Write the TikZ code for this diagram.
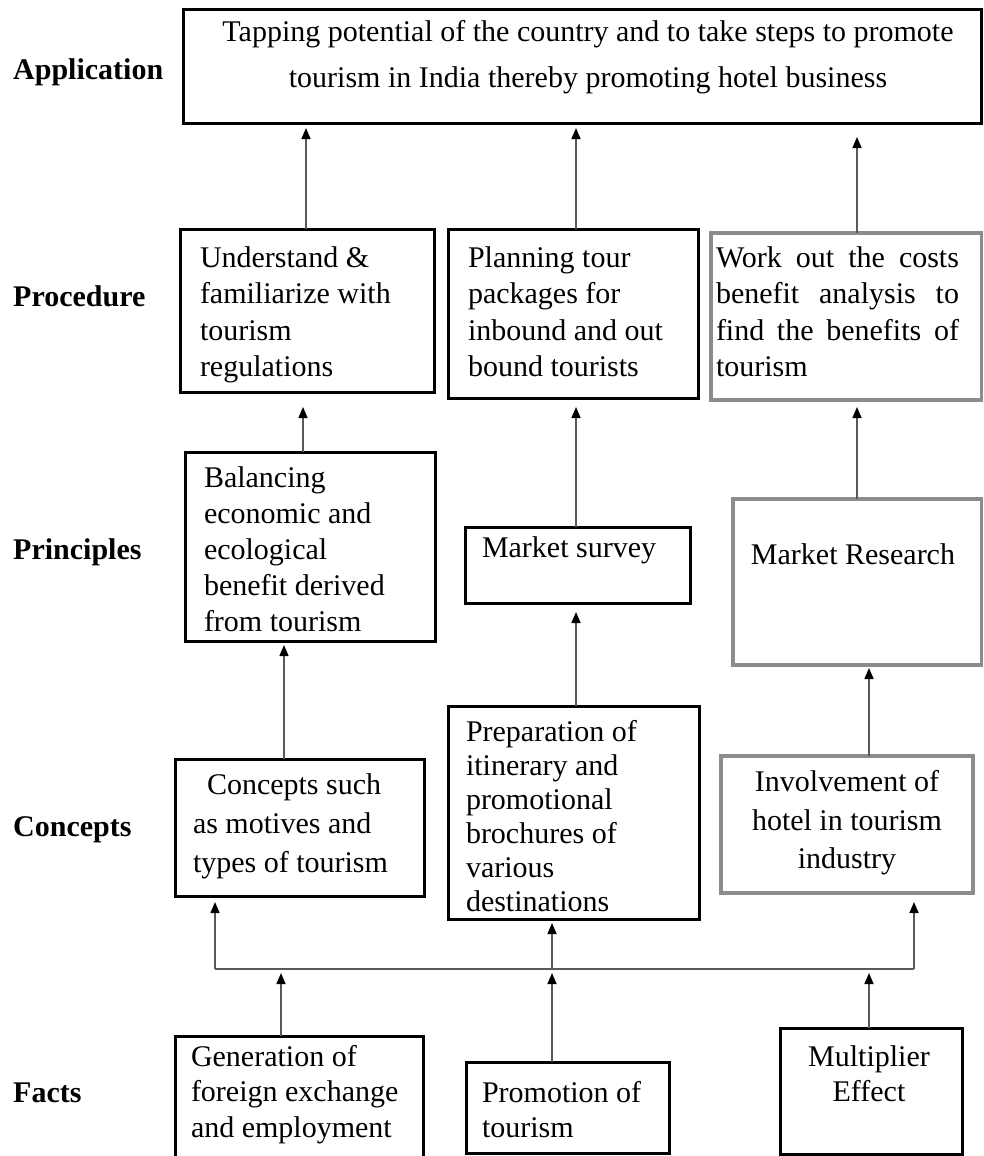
\documentclass[tikz,border=0pt]{standalone}
\usepackage{fontspec}
\setmainfont{Liberation Serif}
\usetikzlibrary{arrows.meta}
\definecolor{edgegray}{RGB}{140,140,140}
\definecolor{linkgray}{RGB}{90,90,90}
\tikzset{
  box/.style={draw=black, line width=3pt, inner sep=0pt, outer sep=0pt, anchor=north west},
  softbox/.style={draw=edgegray, line width=3.5pt, inner sep=0pt, outer sep=0pt, anchor=north west},
  txt/.style={inner sep=0pt, outer sep=0pt, align=left, anchor=north west,
    font=\fontsize{30}{#1}\selectfont},
  txt/.default=36,
  ctxt/.style={txt=#1, align=center, anchor=north},
  ctxt/.default=36,
  lbl/.style={inner sep=0pt, anchor=base west, font=\fontsize{30}{36}\selectfont\bfseries},
  link/.style={draw=linkgray, line width=1.5pt},
  arr/.style={link, -{Triangle[length=11pt,width=9pt,color=black]}, shorten >=#1},
  arr/.default=5pt
}
\begin{document}
\begin{tikzpicture}[x=1pt,y=-1pt]
\useasboundingbox (0,0) rectangle (984,1156);

% level labels
\node[lbl] (lapp)  at (13,79)   {Application};
\node[lbl] (lproc) at (13,306)  {Procedure};
\node[lbl] (lprin) at (13,559)  {Principles};
\node[lbl] (lconc) at (13,836)  {Concepts};
\node[lbl] (lfact) at (13,1102) {Facts};

% application
\node[box, minimum width=798.5pt, minimum height=113pt] (app) at (183,10) {};
\node[ctxt=45] (tapp) at (588,10.5)
  {\strut Tapping potential of the country and to take steps to promote\\
   tourism in India thereby promoting hotel business};

% procedure
\node[box, minimum width=254pt, minimum height=163pt] (p1) at (180,229) {};
\node[txt=36.5] (tp1) at (200,241.5) {\strut Understand \&\\familiarize with\\tourism\\regulations};
\node[box, minimum width=250pt, minimum height=169pt] (p2) at (448,229) {};
\node[txt=36.5] (tp2) at (468,241.5) {\strut Planning tour\\packages for\\inbound and out\\bound tourists};
\node[softbox, minimum width=270.5pt, minimum height=167pt] (p3) at (711,233) {};
\node[txt=36.5] (tp3) at (716,241.5)
  {\strut\makebox[243pt][s]{Work out the costs}\\
   \makebox[243pt][s]{benefit analysis to}\\
   \makebox[243pt][s]{find the benefits of}\\
   tourism};

% principles
\node[box, minimum width=250pt, minimum height=189pt] (r1) at (185,452) {};
\node[txt] (tr1) at (204,461.8) {\strut Balancing\\economic and\\ecological\\benefit derived\\from tourism};
\node[box, minimum width=225pt, minimum height=76pt] (r2) at (465,527) {};
\node[txt] (tr2) at (482,531.8) {\strut Market survey};
\node[softbox, minimum width=248.5pt, minimum height=166pt] (r3) at (733,499) {};
\node[ctxt] (tr3) at (853,538.8) {\strut Market Research};

% concepts
\node[box, minimum width=249pt, minimum height=137pt] (c1) at (175,759) {};
\node[txt=39] (tc1) at (193,766.7) {\strut\hspace*{14pt}Concepts such\\as motives and\\types of tourism};
\node[box, minimum width=251pt, minimum height=213pt] (c2) at (448,706) {};
\node[txt=34] (tc2) at (466,717.2) {\strut Preparation of\\itinerary and\\promotional\\brochures of\\various\\destinations};
\node[softbox, minimum width=252pt, minimum height=137pt] (c3) at (721,756) {};
\node[ctxt=38.5] (tc3) at (847,765) {\strut Involvement of\\hotel in tourism\\industry};

% facts
\node[box, minimum width=248pt, minimum height=150pt] (f1) at (175,1036) {};
\node[txt=35.5] (tf1) at (191,1041.2) {\strut Generation of\\foreign exchange\\and employment};
\node[box, minimum width=203pt, minimum height=91pt] (f2) at (466,1062) {};
\node[txt=35.5] (tf2) at (482,1077.2) {\strut Promotion of\\tourism};
\node[box, minimum width=182pt, minimum height=126pt] (f3) at (780,1028) {};
\node[ctxt=35] (tf3) at (869,1041.5) {\strut Multiplier\\Effect};

% connector columns and the distribution bus
\coordinate (xa) at (306,0);
\coordinate (xb) at (576,0);
\coordinate (xc) at (857,0);
\coordinate (xd) at (303,0);
\coordinate (xe) at (284,0);
\coordinate (xf) at (869,0);
\coordinate (busL) at (215,969);
\coordinate (busM) at (552,969);
\coordinate (busR) at (914,969);
\coordinate (xg) at (281,0);

% procedure -> application
\draw[arr]      (p1.north -| xa) -- (app.south -| xa);
\draw[arr]      (p2.north -| xb) -- (app.south -| xb);
\draw[arr=14pt] (p3.north -| xc) -- (app.south -| xc);

% principles -> procedure
\draw[arr=15pt] (r1.north -| xd) -- (p1.south -| xd);
\draw[arr=9pt]  (r2.north -| xb) -- (p2.south -| xb);
\draw[arr=7pt]  (r3.north -| xc) -- (p3.south -| xc);

% concepts -> principles
\draw[arr=4pt]  (c1.north -| xe) -- (r1.south -| xe);
\draw[arr=9pt]  (c2.north -| xb) -- (r2.south -| xb);
\draw[arr=3pt]  (c3.north -| xf) -- (r3.south -| xf);

% bus -> concepts
\draw[link] (busL) -- (busR);
\draw[arr=6pt]  (busL) -- (c1.south -| busL);
\draw[arr=4pt]  (busM) -- (c2.south -| busM);
\draw[arr=9pt]  (busR) -- (c3.south -| busR);

% facts -> bus
\draw[arr=4pt]  (f1.north -| xg) -- (busL -| xg);
\draw[arr=4pt]  (f2.north -| busM) -- (busM);
\draw[arr=4pt]  (f3.north -| xf) -- (busL -| xf);
\end{tikzpicture}
\end{document}
